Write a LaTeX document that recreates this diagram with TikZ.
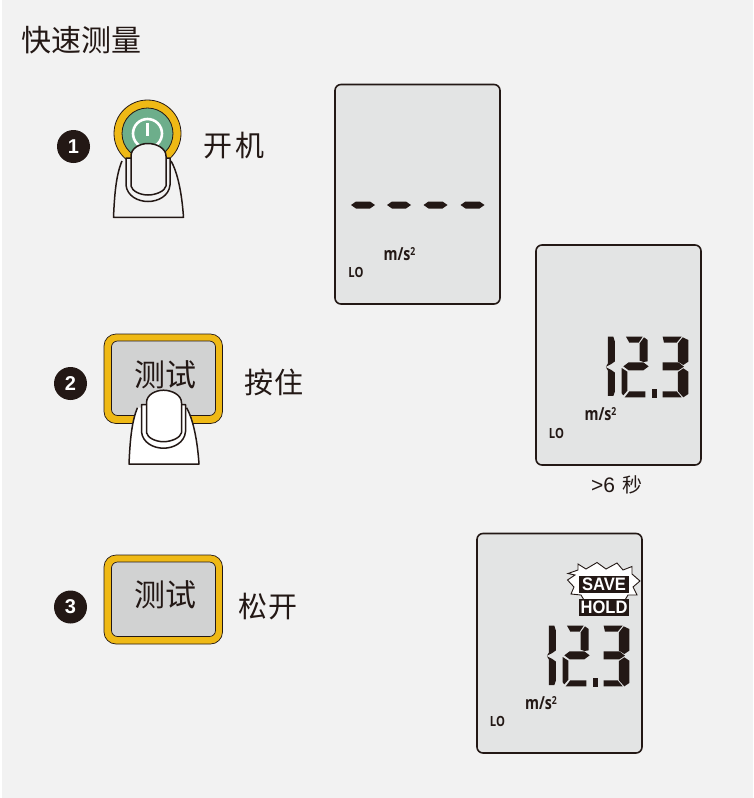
\documentclass[tikz,border=0pt]{standalone}
\usepackage{fontspec}
\usepackage{graphicx}
\setmainfont{Liberation Sans}
\newfontfamily\opens{Open Sans}
\newfontfamily\cjk{Noto Sans CJK SC}
\definecolor{pagebg}{HTML}{F2F2F2}
\definecolor{ink}{HTML}{231815}
\definecolor{lcd}{HTML}{E3E4E4}
\definecolor{btngray}{HTML}{D1D2D2}
\definecolor{amber}{HTML}{EFB915}
\definecolor{pgreen}{HTML}{6DAE8B}
\newcommand{\digitsegs}{%
 \fill[ink] (234,50)--(250,50)--(255,66)--(255,124)--(244,132)--(228,140)--(234,130)--cycle;
 \fill[ink] (228,142)--(244,150)--(255,158)--(255,214)--(250,228)--(234,228)--(234,152)--cycle;
 \fill[ink] (288,50)--(338,50)--(326,68)--(298,68)--cycle;
 \fill[ink] (342,52)--(353,60)--(353,124)--(341,126)--(329,122)--(329,70)--cycle;
 \fill[ink] (296,127)--(340,127)--(356,139)--(340,151)--(296,151)--(280,139)--cycle;
 \fill[ink] (275,144)--(292,155)--(292,212)--(280,226)--(275,220)--cycle;
 \fill[ink] (284,232)--(298,214)--(346,214)--(346,232)--cycle;
 \fill[ink] (365,206)--(382,206)--(382,234)--(365,234)--cycle;
 \fill[ink] (398,50)--(455,50)--(440,68)--(402,68)--cycle;
 \fill[ink] (458,52)--(475,60)--(475,125)--(460,135)--(444,125)--(444,70)--cycle;
 \fill[ink] (402,127)--(445,127)--(462,140)--(445,151)--(398,151)--(398,127)--cycle;
 \fill[ink] (444,156)--(460,145)--(475,155)--(475,222)--(460,232)--(444,214)--cycle;
 \fill[ink] (398,232)--(398,214)--(440,214)--(455,232)--cycle;
}
\newcommand{\finger}[1]{%
 \fill[#1] (113.5,217.3) .. controls (114.5,195) and (116,175) .. (122,161)
   -- (171,161) .. controls (178,173) and (182,195) .. (183.5,217.3) -- cycle;
 \draw[fingerline] (122,161) .. controls (116,175) and (114.5,195) .. (113.5,217.3)
   -- (183.5,217.3) .. controls (182,195) and (178,173) .. (171,161);
 \filldraw[fingerline,fill=#1] (126,158) -- (126,185) .. controls (127,196) and (138,201.5) .. (148,201.5)
   .. controls (158,201.5) and (169,196) .. (170,185) -- (170,158) -- cycle;
 \filldraw[fingerline,fill=#1] (131,186) -- (131,156) .. controls (131,148) and (140,143.5) .. (148,143.5)
   .. controls (156,143.5) and (166,148) .. (166,156) -- (166,186)
   .. controls (165,191) and (156,195) .. (148,195) .. controls (140,195) and (132,191) .. (131,186) -- cycle;
}
\newcommand{\unittext}{\scalebox{0.79}[1]{\opens m/s\raisebox{5pt}{\fontsize{11}{11}\selectfont 2}}}
\newcommand{\lotext}{\scalebox{0.8}[1]{\opens LO}}
\tikzset{
 fingerline/.style={draw=ink,line width=1.5pt,line join=round},
 lcdbox/.style={draw=ink,fill=lcd,line width=1.6pt,rounded corners=6pt},
 numdot/.style={circle,fill=ink,minimum size=33pt,inner sep=0pt,text=white,font=\fontsize{20}{20}\selectfont\bfseries},
 cjklabel/.style={inner sep=0pt,text=ink,font=\cjk\fontsize{29}{29}\selectfont},
 btnlabel/.style={inner sep=0pt,text=ink,font=\cjk\fontsize{31}{31}\selectfont},
 unitlabel/.style={inner sep=0pt,text=ink,font=\fontsize{18}{18}\selectfont\bfseries},
 lolabel/.style={inner sep=0pt,text=ink,font=\fontsize{14}{14}\selectfont\bfseries},
 ringbtn/.style={draw=ink,fill=amber,line width=0.7pt,rounded corners=12pt},
 innerbtn/.style={draw=ink,fill=btngray,line width=0.7pt,rounded corners=6pt},
 tagbox/.style={fill=ink,text=white,inner sep=0pt,minimum width=50pt,minimum height=17pt,font=\fontsize{18}{18}\selectfont\bfseries},
 burstline/.style={draw=ink,fill=white,line width=0.9pt,line join=miter},
}
\begin{document}
\begin{tikzpicture}[x=1pt,y=-1pt]
\useasboundingbox (0,0) rectangle (753,798);
\fill[white] (0,0) rectangle (753,798);
\fill[pagebg] (2,0) rectangle (753,798);
\node[anchor=west,inner sep=0pt,text=ink,font=\cjk\fontsize{30}{30}\selectfont] (title) at (21.5,40) {快速测量};
% step 1
\node[numdot] (n1) at (73.5,146.5) {1};
\filldraw[draw=ink,fill=amber,line width=0.8pt] (147.5,133.5) circle (33.5);
\filldraw[draw=ink,fill=pgreen,line width=0.8pt] (147.5,133.5) circle (25.5);
\draw[white,line width=2.6pt] (147.5,133.5) circle (14.5);
\draw[white,line width=2.4pt] (147.5,123) -- (147.5,136);
\finger{pagebg}
\node[cjklabel] (l1) at (234,146) {开\hspace{3pt}机};
% step 2
\node[numdot] (n2) at (70.5,383.5) {2};
\filldraw[ringbtn] (104,334) rectangle (222.5,423.5);
\filldraw[innerbtn] (111.5,341) rectangle (215.5,415.5);
\node[btnlabel] (b2) at (165,374.5) {测试};
\begin{scope}[shift={(15.5,246.7)}]\finger{white}\end{scope}
\node[cjklabel] (l2) at (274,382) {按\hspace{1pt}住};
% step 3
\node[numdot] (n3) at (70.5,607) {3};
\filldraw[ringbtn] (104,555) rectangle (222.5,644);
\filldraw[innerbtn] (111.5,562) rectangle (215.5,636.5);
\node[btnlabel] (b3) at (165,595) {测试};
\node[cjklabel] (l3) at (268,607) {松\hspace{1pt}开};
% display 1
\filldraw[lcdbox] (335,84.5) rectangle (500,304);
\foreach \cx in {363,399,435.5,472.5}
 \fill[ink] (\cx-12,205) -- (\cx-7,201.5) -- (\cx+7,201.5) -- (\cx+12,205) -- (\cx+7,208.5) -- (\cx-7,208.5) -- cycle;
\node[unitlabel] (u1) at (399.5,254) {\unittext};
\node[lolabel] (lo1) at (356,272.5) {\lotext};
% display 2
\filldraw[lcdbox] (536,245) rectangle (701,465);
\begin{scope}[shift={(530,320)},x=0.3333pt,y=-0.3333pt]\digitsegs\end{scope}
\node[unitlabel] (u2) at (600.5,414) {\unittext};
\node[lolabel] (lo2) at (556.5,433) {\lotext};
\node[inner sep=0pt,text=ink,font=\fontsize{21}{22}\selectfont] (t6) at (617,485) {>6 {\cjk\fontsize{20}{20}\selectfont\hspace{2pt}秒}};
% display 3
\filldraw[lcdbox] (477,533.5) rectangle (642,753);
\begin{scope}[shift={(471,609)},x=0.3333pt,y=-0.3333pt]\digitsegs\end{scope}
\filldraw[burstline]
 (578,564) -- (586,569) -- (597,562.5) -- (606,569) -- (617,563)
 -- (623,570) -- (632,566.5) -- (632,574) -- (640,581)
 -- (633,587) -- (637,595) -- (628,595) -- (625,600)
 -- (584,600) -- (581,595) -- (571,594) -- (574,587)
 -- (567.5,580) -- (575,575) -- (568,573.5) -- (578,570) -- cycle;
\node[tagbox] (save) at (604,584.5) {\scalebox{0.92}[1]{SAVE}};
\node[tagbox] (hold) at (604,607.5) {\scalebox{0.92}[1]{HOLD}};
\node[unitlabel] (u3) at (541,703) {\unittext};
\node[lolabel] (lo3) at (497.5,721.5) {\lotext};
\end{tikzpicture}
\end{document}
